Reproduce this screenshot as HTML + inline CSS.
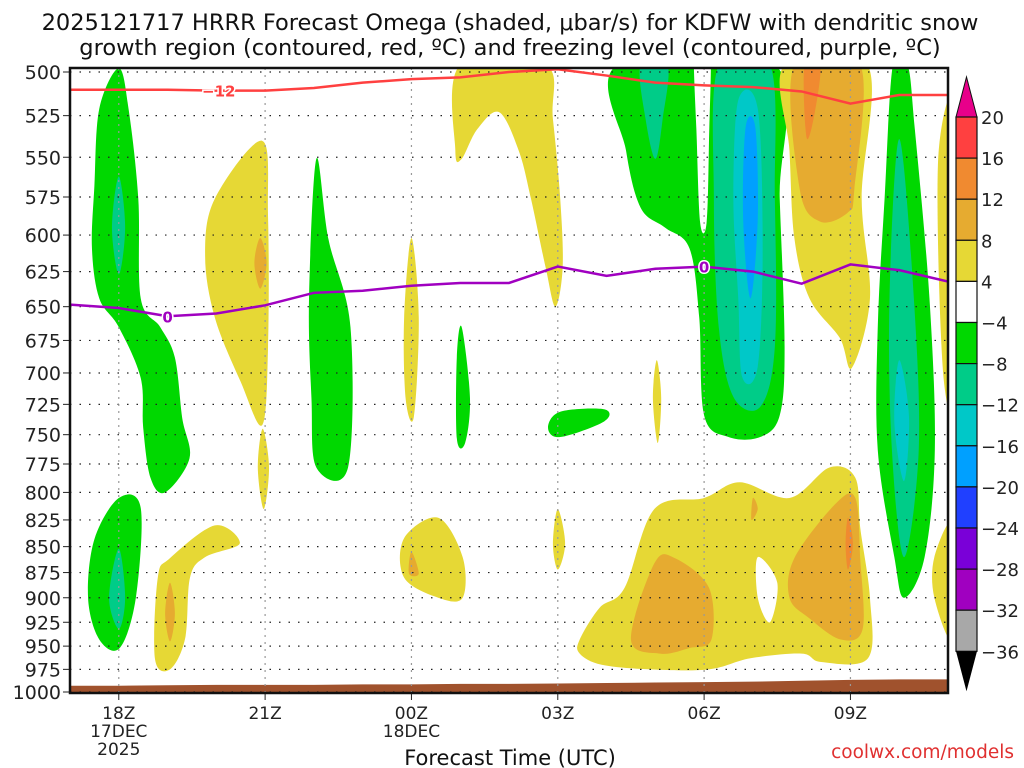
<!DOCTYPE html>
<html><head><meta charset="utf-8"><style>
body{margin:0;background:#fff}
svg{display:block;font-family:"DejaVu Sans","Liberation Sans",sans-serif}
</style></head><body>
<svg id="chart" width="1024" height="768" viewBox="0 0 1024 768">
<defs><clipPath id="plotclip"><rect x="70" y="68" width="878" height="625"/></clipPath></defs>
<text x="510" y="30" text-anchor="middle" font-size="22.5" fill="#111">2025121717 HRRR Forecast Omega (shaded, μbar/s) for KDFW with dendritic snow</text>
<text x="510" y="55" text-anchor="middle" font-size="22.5" fill="#111">growth region (contoured, red, ºC) and freezing level (contoured, purple, ºC)</text>
<g id="shading" clip-path="url(#plotclip)"></g>
<g id="ground" clip-path="url(#plotclip)"></g>
<g id="grid"></g>
<g id="lines" clip-path="url(#plotclip)"></g>
<g id="axes"></g>
<g id="cbar"></g>
<text x="510" y="765" text-anchor="middle" font-size="21" fill="#111">Forecast Time (UTC)</text>
<text x="1014" y="758" text-anchor="end" font-size="18.5" fill="#e03030">coolwx.com/models</text>
</svg>
<script>
// ---- data ----
const pressureTicks=[500,525,550,575,600,625,650,675,700,725,750,775,800,825,850,875,900,925,950,975,1000];
const timeTicks=[18,21,24,27,30,33];
const timeTickLabels=[["18Z","17DEC","2025"],["21Z"],["00Z","18DEC"],["03Z"],["06Z"],["09Z"]];
const hours=[17,18,19,20,21,22,23,24,25,26,27,28,29,30,31,32,33,34,35];
const dgzTop=[510,510,510,510.5,510.5,509,506,504,503,500,498.5,502,506,507.5,508.5,511,518,513,513];
const freezingLevel=[648.5,651,657,655,649,640,638.5,635,633,633,621.5,628,623,621.5,625,633.5,620,624,632];
const surfacePressure=[993,993,992.5,992,992,992,991.5,991.5,991,991,990.5,990,989.5,989,988.5,987.5,986.5,986,986];
const cbarLevels=[20,16,12,8,4,-4,-8,-12,-16,-20,-24,-28,-32,-36];
const cbarColors=["#ff4040","#f08a30","#e6ab30","#e6d835","#ffffff","#00d800","#00cc88","#00c8c8","#00a0ff","#2040ff","#7a00d8","#a000c0","#a8a8a8"];
// shaded regions: level (lower bound of band), polygon in [hour, hPa]
const regions=[
{lv:-4,pts:[[17.5,568],[17.6,521],[18.0,498],[18.2,521],[18.4,576],[18.45,644],[18.85,665],[19.15,688],[19.3,736],[19.45,770],[18.95,800],[18.65,787],[18.5,744],[18.45,704],[18.0,665],[17.6,644],[17.45,609]]},
{lv:-8,pts:[[18,562],[18.13,595],[18,627],[17.86,595]]},
{lv:-4,pts:[[17.37,900],[17.5,843],[18,805],[18.45,814],[18.35,900],[18.02,952],[17.6,943]]},
{lv:-8,pts:[[18,852],[18.13,900],[18,932],[17.8,900]]},
{lv:4,pts:[[18.74,963],[18.8,880],[19.05,861],[19.97,830],[20.48,847],[19.77,860],[19.46,880],[19.36,942],[19.05,975]]},
{lv:8,pts:[[19.05,885],[19.15,916],[19.05,945],[18.95,916]]},
{lv:4,pts:[[19.77,614],[19.97,576],[20.94,540],[21.06,588],[21.06,680],[20.94,742],[20.5,707],[19.97,658]]},
{lv:8,pts:[[20.9,602],[21.03,619],[20.9,637],[20.78,619]]},
{lv:4,pts:[[20.85,778],[20.95,745],[21.08,778],[20.97,815]]},
{lv:-4,pts:[[21.9,644],[22.05,551],[22.3,603],[22.75,665],[22.7,778],[22.05,778],[21.95,720]]},
{lv:4,pts:[[23.85,658],[24,602],[24.15,658],[24.05,735],[23.88,720]]},
{lv:-4,pts:[[24.93,688],[25.03,665],[25.2,720],[25.1,757],[24.93,753]]},
{lv:4,pts:[[23.85,842],[24.55,823],[25.05,860],[25.05,900],[24.55,900],[23.85,880]]},
{lv:8,pts:[[24,855],[24.15,876],[23.95,876]]},
{lv:4,pts:[[24.9,546],[25,496],[26.75,496],[26.9,527],[27.05,576],[27.1,622],[26.95,650],[26.75,622],[26.45,576],[26.2,546],[25.8,523],[25.35,533],[25.03,551]]},
{lv:-4,pts:[[26.8,744],[27.05,731],[27.95,729],[27.95,739],[27.05,752]]},
{lv:4,pts:[[26.9,847],[27,815],[27.15,847],[27,872]]},
{lv:4,pts:[[28.95,720],[29.03,690],[29.12,720],[29.05,757]]},
{lv:-4,pts:[[28.23,496],[31.45,496],[31.55,576],[31.65,680],[31.55,734],[31.15,752],[30.5,752],[30.0,734],[29.9,658],[29.7,609],[29.2,595],[28.7,582],[28.4,546]]},
{lv:-4.1,pts:[[29.8,480],[30.12,480],[30.1,540],[30.05,592],[29.92,592],[29.85,540]],white:true},
{lv:-8,pts:[[28.7,496],[29.25,496],[29.15,527],[29.0,551],[28.8,527]]},
{lv:-8,pts:[[30.3,496],[31.35,496],[31.45,576],[31.45,680],[31.15,727],[30.6,719],[30.3,665],[30.2,576]]},
{lv:-12,pts:[[30.7,516],[31.1,521],[31.2,609],[31.1,695],[30.78,703],[30.7,644],[30.6,576]]},
{lv:-16,pts:[[30.85,532],[31.05,532],[31.1,589],[30.95,644],[30.8,589]]},
{lv:4,pts:[[31.65,496],[33.35,496],[33.23,576],[33.4,644],[33.03,696],[32.78,673],[32.16,644],[31.85,602],[31.75,546]]},
{lv:8,pts:[[31.85,496],[33.2,496],[33.08,570],[32.95,585],[32.38,591],[31.96,570]]},
{lv:12,pts:[[32.06,496],[32.38,496],[32.27,523],[32.1,538]]},
{lv:-4,pts:[[33.87,496],[34.17,496],[34.32,533],[34.62,644],[34.73,763],[34.52,860],[34.1,900],[33.9,860],[33.56,763],[33.56,665],[33.7,576]]},
{lv:-8,pts:[[34,539],[34.3,644],[34.4,763],[34.1,860],[33.85,763],[33.8,644]]},
{lv:-12,pts:[[34,690],[34.2,735],[34.1,790],[33.9,740]]},
{lv:4,pts:[[34.8,550],[35.2,520],[35.2,720],[34.9,700]]},
{lv:4,pts:[[34.72,860],[35.1,830],[35.1,942],[34.72,900]]},
{lv:4,pts:[[27.45,943],[27.86,910],[28.37,890],[28.98,815],[30,805],[30.73,791],[31.75,805],[32.57,778],[33.1,787],[33.2,832],[33.4,900],[33.36,963],[32.4,967],[32,958],[30.95,963],[30.1,975],[28.9,975],[27.9,970],[27.45,958]]},
{lv:-4.1,pts:[[31.1,860],[31.5,885],[31.35,925],[31.1,900]],white:true},
{lv:8,pts:[[28.5,943],[28.98,866],[29.4,861],[30.1,890],[30.15,943],[29.7,952],[29.1,958]]},
{lv:8,pts:[[31.75,900],[31.85,861],[32.7,810],[33.1,805],[33.2,861],[33.25,932],[32.8,943],[32.16,921]]},
{lv:12,pts:[[32.95,823],[33.05,847],[32.95,872],[32.9,847]]},
{lv:8,pts:[[31,805],[31.1,815],[30.97,825]]}
];
// ---- axes ----
const X0=70,X1=948,Y500=72,Y1000=692;
const xs=h=>X0+(h-17)*(X1-X0)/18;
const ys=p=>Y500+(Math.log(p)-Math.log(500))/(Math.log(1000)-Math.log(500))*(Y1000-Y500);
const NS="http://www.w3.org/2000/svg";
function mk(tag,parent,attrs){const e=document.createElementNS(NS,tag);for(const k in attrs)e.setAttribute(k,attrs[k]);parent.appendChild(e);return e;}
function colorFor(lv){if(lv>=16)return cbarColors[0];if(lv>=12)return cbarColors[1];if(lv>=8)return cbarColors[2];if(lv>=4)return cbarColors[3];if(lv>-4)return"#fff";if(lv>-8)return cbarColors[5];if(lv>-12)return cbarColors[6];if(lv>-16)return cbarColors[7];if(lv>-20)return cbarColors[8];return cbarColors[9];}
function smooth(P){const n=P.length;let d=`M${P[0][0]},${P[0][1]}`;for(let i=0;i<n;i++){const p0=P[(i-1+n)%n],p1=P[i],p2=P[(i+1)%n],p3=P[(i+2)%n];const c1=[p1[0]+(p2[0]-p0[0])/6,p1[1]+(p2[1]-p0[1])/6],c2=[p2[0]-(p3[0]-p1[0])/6,p2[1]-(p3[1]-p1[1])/6];d+=`C${c1[0]},${c1[1]} ${c2[0]},${c2[1]} ${p2[0]},${p2[1]}`;}return d+"Z";}
const shading=document.getElementById('shading');
regions.forEach((r,i)=>{const P=r.pts.map(q=>[xs(q[0]),ys(q[1])]);const e=mk('path',shading,{d:smooth(P),fill:r.white?"#fff":colorFor(r.lv)});

});
// ground
const g=document.getElementById('ground');
let gd=`M${xs(hours[0])},${ys(1000)+5}`;hours.forEach((h,i)=>{gd+=`L${xs(h)},${ys(surfacePressure[i])}`});gd+=`L${xs(hours[hours.length-1])},${ys(1000)+5}Z`;
const ge=mk('path',g,{d:gd,fill:"#a0522d"});


// grid
const grid=document.getElementById('grid'),axes=document.getElementById('axes');
pressureTicks.forEach(p=>{const l=mk('line',grid,{x1:X0,x2:X1,y1:ys(p),y2:ys(p),stroke:"#222","stroke-width":1.2,"stroke-dasharray":"1.5,8"});


const t=mk('text',axes,{x:61,y:ys(p)+7,"text-anchor":"end","font-size":19,fill:"#222"});t.textContent=p;


mk('line',axes,{x1:63,x2:70,y1:ys(p),y2:ys(p),stroke:"#222"});});
timeTicks.forEach((h,i)=>{const l=mk('line',grid,{x1:xs(h),x2:xs(h),y1:68,y2:692,stroke:"#999","stroke-width":1.2,"stroke-dasharray":"2,5"});


mk('line',axes,{x1:xs(h),x2:xs(h),y1:693,y2:700,stroke:"#222"});
timeTickLabels[i].forEach((s,j)=>{const t=mk('text',axes,{x:xs(h),y:719+j*18,"text-anchor":"middle","font-size":17,fill:"#222"});t.textContent=s;

});});
const fr=mk('rect',axes,{x:X0,y:68,width:X1-X0,height:625,fill:"none",stroke:"#111","stroke-width":2.5});


// lines
const lines=document.getElementById('lines');
function line(arr,col,name){const d=hours.map((h,i)=>(i?"L":"M")+xs(h)+","+ys(arr[i])).join("");const e=mk('path',lines,{d:d,fill:"none",stroke:col,"stroke-width":2.5});

}
line(dgzTop,"#ff4040","dgz-minus12-line");
line(freezingLevel,"#a000c0","freezing-level-line");
function lab(h,arr,s,col){const i=hours.indexOf(Math.round(h));const x=xs(h),y=ys(arr[i]);const t=mk('text',lines,{x:x,y:y+6,"text-anchor":"middle","font-size":15,"font-weight":"bold",fill:col,stroke:"#fff","stroke-width":3,"paint-order":"stroke"});t.textContent=s;

}
lab(20.05,dgzTop,"−12","#ff4040");lab(19,freezingLevel,"0","#a000c0");lab(30,freezingLevel,"0","#a000c0");
// colorbar
const cb=document.getElementById('cbar');const cx0=956,cx1=977,cTop=117,step=41.1;
mk('polygon',cb,{points:`${cx0},${cTop} ${cx1},${cTop} ${(cx0+cx1)/2},77`,fill:"#e8008a",stroke:"#111"});
cbarColors.forEach((c,i)=>{const r=mk('rect',cb,{x:cx0,y:cTop+i*step,width:cx1-cx0,height:step,fill:c,stroke:"#111","stroke-width":1.2});

});
const cb2=cTop+cbarColors.length*step;
mk('polygon',cb,{points:`${cx0},${cb2} ${cx1},${cb2} ${(cx0+cx1)/2},${cb2+40}`,fill:"#000"});
cbarLevels.forEach((v,i)=>{const t=mk('text',cb,{x:981,y:cTop+i*step+7,"font-size":18,fill:"#222"});t.textContent=v<0?"−"+(-v):String(v);

});
</script>
</body></html>
